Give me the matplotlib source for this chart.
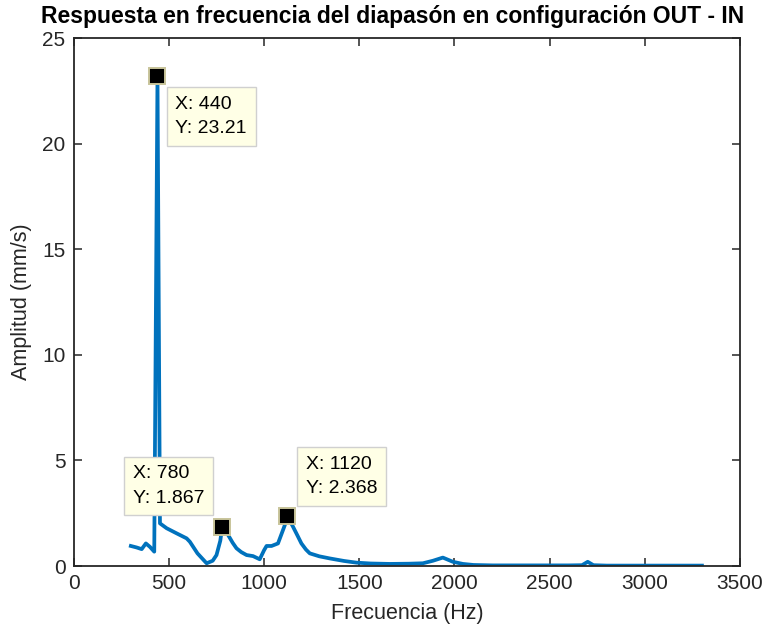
import matplotlib
matplotlib.use("Agg")
import matplotlib.pyplot as plt

plt.rcParams['font.family'] = ['Liberation Sans', 'DejaVu Sans']

# Espectro medido (Hz, mm/s)
frecuencia = [300, 330, 357, 379, 400, 423, 440, 453, 488, 540, 593, 610,
              650, 698, 730, 750, 770, 780, 795, 811, 835, 855, 880, 908,
              942, 977, 1000, 1013, 1039, 1073, 1095, 1109, 1120, 1135, 1152,
              1175, 1196, 1220, 1240, 1290, 1345, 1420, 1485, 1560, 1660,
              1760, 1834, 1887, 1939, 1992, 2044, 2100, 2200, 2400, 2600,
              2670, 2700, 2730, 2800, 3000, 3300]
amplitud = [0.95, 0.88, 0.80, 1.07, 0.91, 0.68, 23.21, 2.02, 1.79, 1.55,
            1.31, 1.15, 0.60, 0.13, 0.25, 0.52, 1.20, 1.867, 1.70, 1.47,
            1.10, 0.84, 0.66, 0.52, 0.47, 0.32, 0.75, 0.95, 0.95, 1.07,
            1.60, 1.94, 2.368, 2.15, 1.86, 1.45, 1.07, 0.78, 0.60, 0.46,
            0.36, 0.24, 0.16, 0.12, 0.10, 0.11, 0.13, 0.25, 0.40, 0.20,
            0.10, 0.05, 0.03, 0.03, 0.03, 0.04, 0.20, 0.04, 0.02, 0.02, 0.02]

# Puntos marcados con su etiqueta
tips_x = [440, 780, 1120]
tips_y = [23.21, 1.867, 2.368]
tips_txt = ["X: 440\nY: 23.21", "X: 780\nY: 1.867", "X: 1120\nY: 2.368"]
tips_offset = [(18, -20), (-89, 20), (19, 19)]
tips_va = ["top", "bottom", "bottom"]

fig = plt.figure(figsize=(7.64, 6.33), dpi=100)
ax = fig.add_axes([0.0965, 0.1058, 0.8721, 0.834])

ax.plot(frecuencia, amplitud, color='#0072BD', linewidth=2.7, zorder=2)

for x, y, txt, off, va in zip(tips_x, tips_y, tips_txt, tips_offset, tips_va):
    ax.plot(x, y, marker='s', markersize=11.5, markerfacecolor='black',
            markeredgecolor='#C8C49A', markeredgewidth=1.4, zorder=4,
            clip_on=False)
    ax.annotate(txt, xy=(x, y), xytext=off, textcoords='offset pixels',
                ha='left', va=va, fontsize=14, linespacing=1.55,
                zorder=5,
                bbox=dict(boxstyle='square,pad=0.45', facecolor='#FFFFE6',
                          edgecolor='#D0D0D0', linewidth=1))

ax.set_xlim(0, 3500)
ax.set_ylim(0, 25)
ax.set_xticks(range(0, 3501, 500))
ax.set_yticks(range(0, 26, 5))

for s in ax.spines.values():
    s.set_color('#262626')
    s.set_linewidth(1.3)
ax.tick_params(direction='in', length=6, width=1.1, colors='#262626',
               labelsize=15, top=True, right=True, pad=6)

ax.set_title('Respuesta en frecuencia del diapasón en configuración OUT - IN',
             fontsize=16.5, fontweight='bold', x=0.479, pad=11)
ax.set_xlabel('Frecuencia (Hz)', fontsize=15.5, color='#262626', labelpad=7)
ax.set_ylabel('Amplitud (mm/s)', fontsize=15.5, color='#262626', labelpad=7)

fig.savefig('out.png', dpi=100)
